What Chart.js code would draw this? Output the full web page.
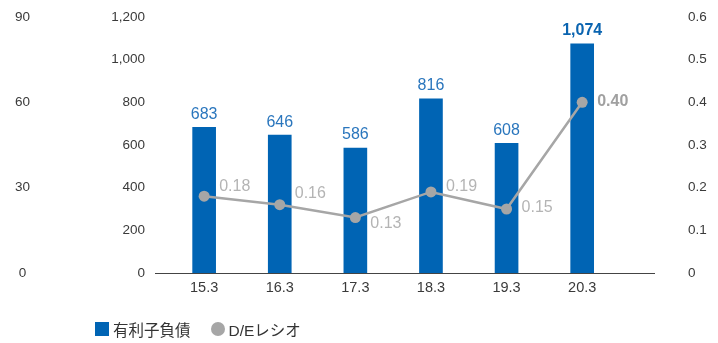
<!DOCTYPE html>
<html>
<head>
<meta charset="utf-8">
<script src="https://cdn.jsdelivr.net/npm/chart.js@4"></script>
<style>
  body { margin: 0; background: #fff; }
  #wrap { position: relative; width: 718px; height: 343px; }
  #legend { position: absolute; left: 95px; top: 318px; display: flex; align-items: center;
    font-family: "Liberation Sans", "Noto Sans CJK JP", sans-serif; font-size: 15.5px; color: #333; }
  #legend .sw { width: 14px; height: 14px; margin-right: 4px; }
  #legend .item { display: flex; align-items: center; margin-right: 20px; }
</style>
</head>
<body>
<div id="wrap">
  <canvas id="chart" width="718" height="343"></canvas>
  <div id="legend"></div>
</div>
<script>
const categories = ["15.3", "16.3", "17.3", "18.3", "19.3", "20.3"];
const debtValues = [683, 646, 586, 816, 608, 1074];
const deRatio = [0.18, 0.16, 0.13, 0.19, 0.15, 0.40];
const debtTicks = [0, 200, 400, 600, 800, 1000, 1200];
const ratioTicks = [0, 0.1, 0.2, 0.3, 0.4, 0.5, 0.6];
const outerTicks = [0, 30, 60, 90];

const blue = "#0064b4";
const gray = "#a6a6a6";
const fontName = "'Liberation Sans', Arial, sans-serif";

// label offsets for the D/E labels (dy from point)
const ratioLabelDy = [-10, -11, 6, -5, -1, -1];

const labelPlugin = {
  id: "valueLabels",
  afterDatasetsDraw(chart) {
    const ctx = chart.ctx;
    ctx.save();
    const bars = chart.getDatasetMeta(0).data;
    bars.forEach((bar, i) => {
      const last = i === bars.length - 1;
      ctx.font = (last ? "bold " : "") + "16px " + fontName;
      ctx.fillStyle = last ? "#0a64b0" : "#2a76bd";
      ctx.textAlign = "center";
      ctx.textBaseline = "middle";
      ctx.fillText(debtValues[i].toLocaleString("en-US"), bar.x, bar.y - 13);
    });
    const pts = chart.getDatasetMeta(1).data;
    pts.forEach((p, i) => {
      const last = i === pts.length - 1;
      ctx.font = (last ? "bold " : "") + "16px " + fontName;
      ctx.fillStyle = last ? "#a0a0a0" : "#b4b4b4";
      ctx.textAlign = "left";
      ctx.textBaseline = "middle";
      ctx.fillText(deRatio[i].toFixed(2), p.x + 15, p.y + ratioLabelDy[i]);
    });
    ctx.restore();
  }
};

const tickFont = { family: fontName, size: 13.5 };
const noPad = s => { s.paddingTop = 0; s.paddingBottom = 0; };

new Chart(document.getElementById("chart"), {
  type: "bar",
  data: {
    datasets: [{
      label: "有利子負債",
      data: debtValues.map((v, i) => ({ x: i, y: v })),
      backgroundColor: blue,
      barThickness: 23,
      yAxisID: "y",
      order: 2
    }, {
      type: "line",
      label: "D/Eレシオ",
      data: deRatio.map((v, i) => ({ x: i, y: v })),
      borderColor: gray,
      backgroundColor: gray,
      borderWidth: 2.5,
      pointRadius: 5.5,
      pointHoverRadius: 5.5,
      pointBackgroundColor: gray,
      pointBorderWidth: 0,
      yAxisID: "yR",
      order: 1
    }]
  },
  options: {
    responsive: false,
    animation: false,
    layout: { padding: { top: 17, bottom: 40, left: 0, right: 0 } },
    plugins: { legend: { display: false }, tooltip: { enabled: false } },
    scales: {
      x: {
        type: "linear",
        offset: false,
        min: -0.65,
        max: 5.95,
        afterBuildTicks: s => { s.ticks = categories.map((c, i) => ({ value: i })); },
        afterFit: s => { s.height = 30; },
        grid: { display: false, drawTicks: false, offset: false },
        border: { display: true, color: "#444", width: 1 },
        ticks: {
          callback: v => categories[v],
          font: { family: fontName, size: 14.5 },
          color: "#3a3a3a",
          padding: 6,
          maxRotation: 0
        }
      },
      yOuter: {
        position: "left",
        weight: 1,
        min: 0,
        max: 90,
        afterBuildTicks: s => { s.ticks = outerTicks.map(v => ({ value: v })); },
        afterFit: s => { s.width = 40; noPad(s); },
        grid: { display: false, drawTicks: false },
        border: { display: false },
        ticks: { font: tickFont, color: "#3a3a3a", padding: 10, crossAlign: "center" }
      },
      y: {
        position: "left",
        weight: 0,
        min: 0,
        max: 1200,
        afterBuildTicks: s => { s.ticks = debtTicks.map(v => ({ value: v })); },
        afterFit: s => { s.width = 115; noPad(s); },
        grid: { display: false, drawTicks: false },
        border: { display: false },
        ticks: {
          font: tickFont, color: "#3a3a3a", padding: 10,
          callback: v => v.toLocaleString("en-US")
        }
      },
      yR: {
        position: "right",
        min: 0,
        max: 0.6,
        afterBuildTicks: s => { s.ticks = ratioTicks.map(v => ({ value: v })); },
        afterFit: s => { s.width = 64; noPad(s); },
        grid: { display: false, drawTicks: false },
        border: { display: false },
        ticks: {
          font: tickFont, color: "#3a3a3a", padding: 34,
          callback: v => v === 0 ? "0" : v.toFixed(1)
        }
      }
    }
  },
  plugins: [labelPlugin]
});

const legendItems = [
  { text: "有利子負債", color: blue, round: false },
  { text: "D/Eレシオ", color: gray, round: true }
];
const legend = document.getElementById("legend");
legendItems.forEach(it => {
  const item = document.createElement("div");
  item.className = "item";
  const sw = document.createElement("span");
  sw.className = "sw";
  sw.style.background = it.color;
  if (it.round) sw.style.borderRadius = "50%";
  const t = document.createElement("span");
  t.textContent = it.text;
  item.appendChild(sw);
  item.appendChild(t);
  legend.appendChild(item);
});
</script>
</body>
</html>
